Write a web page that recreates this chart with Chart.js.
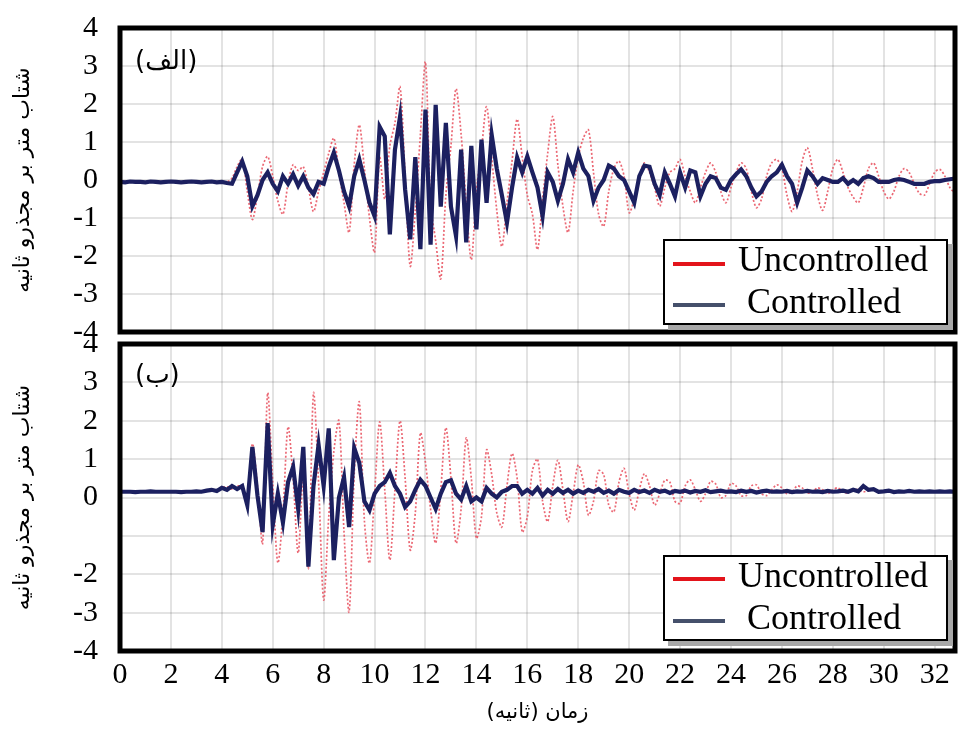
<!DOCTYPE html>
<html>
<head>
<meta charset="utf-8">
<script src="https://cdn.jsdelivr.net/npm/chart.js@4.4.1/dist/chart.umd.min.js"></script>
<style>
  body { margin: 0; background: #fff; }
  #page { position: relative; width: 962px; height: 729px; overflow: hidden; background: #fff; }
  .panel { position: absolute; left: 0; }
  #topWrap { top: 0; }
  #botWrap { top: 340px; }
  .legend {
    position: absolute; left: 663px; width: 281px; height: 82px;
    border: 2px solid #000; background: #fff; box-shadow: 5px 5px 0 #a8a8a8;
    font-family: 'Liberation Serif', 'Times New Roman', serif; font-size: 36px; color: #000;
  }
  .legend .swatch { position: absolute; left: 8px; width: 52px; height: 4px; }
  .legend .txt { position: absolute; line-height: 40px; white-space: nowrap; }
</style>
</head>
<body>
<div id="page">
  <div class="panel" id="topWrap"><canvas id="topChart" width="962" height="350"></canvas></div>
  <div class="panel" id="botWrap"><canvas id="botChart" width="962" height="389"></canvas></div>

  <div class="legend" style="top:239px;">
    <div class="swatch" style="top:21px;background:#e3141b;"></div>
    <div class="txt" style="left:73px;top:-2px;">Uncontrolled</div>
    <div class="swatch" style="top:62px;background:#45506b;"></div>
    <div class="txt" style="left:82px;top:40px;">Controlled</div>
  </div>
  <div class="legend" style="top:555px;">
    <div class="swatch" style="top:20px;background:#e3141b;"></div>
    <div class="txt" style="left:73px;top:-2px;">Uncontrolled</div>
    <div class="swatch" style="top:62px;background:#45506b;"></div>
    <div class="txt" style="left:82px;top:40px;">Controlled</div>
  </div>
</div>

<script>
// samples every 0.2 s, from 0 to 32.8 s
const dt = 0.2;

// (الف) acceleration, m/s²
const uncTop = [
  -0.05,-0.04,-0.06,-0.05,-0.04,-0.05,-0.06,-0.05,-0.04,-0.05,
  -0.05,-0.04,-0.05,-0.06,-0.05,-0.04,-0.05,-0.05,-0.04,-0.05,
  -0.05,-0.05,0.05,0.35,0.55,-0.3,-1.04,-0.4,0.35,0.62,
  0.1,-0.55,-0.9,-0.1,0.4,0.25,0.35,-0.2,-0.83,-0.3,
  0.2,0.7,1.1,0.2,-0.6,-1.38,0.4,1.45,0.3,-1.0,
  -1.9,0.6,-0.5,0.9,1.5,2.45,0.1,-2.27,-0.8,1.2,
  3.1,-0.6,-1.6,-2.6,-0.4,0.9,2.4,1.2,-0.6,-2.1,
  -0.3,0.8,1.93,0.6,-0.8,-1.75,-0.6,0.5,1.6,0.6,
  -0.4,-0.9,-1.83,-0.5,0.7,1.67,0.4,-0.7,-1.38,-0.3,
  0.6,1.1,1.32,0.2,-0.9,-1.22,-0.3,0.3,0.5,0.1,
  -0.86,-0.5,0.1,0.45,0.2,-0.2,-0.69,-0.2,0.2,0.3,
  0.54,0.1,-0.3,-0.6,-0.2,0.2,0.45,0.2,-0.3,-0.6,
  -0.2,0.2,0.45,0.3,-0.3,-0.73,-0.5,0.1,0.45,0.54,
  0.3,-0.4,-0.83,-0.3,0.5,0.85,0.3,-0.4,-0.8,-0.3,
  0.3,0.54,0.2,-0.2,-0.45,-0.6,-0.2,0.3,0.45,0.1,
  -0.3,-0.5,-0.3,0.1,0.3,0.2,-0.1,-0.35,-0.4,-0.1,
  0.2,0.28,0.1,-0.2,-0.35
];
const conTop = [
  -0.05,-0.06,-0.04,-0.05,-0.05,-0.06,-0.04,-0.05,-0.06,-0.05,
  -0.04,-0.05,-0.06,-0.05,-0.04,-0.05,-0.06,-0.05,-0.04,-0.06,
  -0.05,-0.08,-0.1,0.2,0.49,0.1,-0.69,-0.4,0.0,0.2,
  -0.1,-0.3,0.1,-0.1,0.15,-0.15,0.1,-0.2,-0.37,-0.05,
  -0.1,0.35,0.72,0.25,-0.3,-0.69,0.1,0.54,0.0,-0.6,
  -0.95,1.4,1.15,-1.43,0.8,1.67,-0.25,-1.56,0.6,-1.82,
  1.85,-1.7,1.98,-0.7,1.5,-0.7,-1.48,0.8,-1.64,0.9,
  -1.3,1.06,-0.6,1.19,0.3,-0.4,-1.12,-0.2,0.59,0.2,
  0.62,0.2,-0.2,-0.95,0.2,-0.05,-0.55,-0.1,0.55,0.2,
  0.72,0.3,0.1,-0.55,-0.2,0.0,0.38,0.3,0.1,0.0,
  -0.3,-0.6,0.1,0.38,0.35,-0.1,-0.4,0.2,-0.1,-0.43,
  0.2,-0.2,0.25,0.2,-0.43,-0.1,0.1,0.05,-0.2,-0.26,
  0.0,0.15,0.28,0.1,-0.2,-0.43,-0.3,-0.05,0.1,0.2,
  0.4,0.1,-0.1,-0.6,-0.2,0.25,0.1,-0.1,0.05,0.0,
  -0.05,-0.05,0.05,-0.1,0.0,-0.1,0.05,0.1,0.05,-0.05,
  -0.05,-0.05,0.0,0.02,0.0,-0.05,-0.1,-0.1,-0.1,-0.05,
  -0.03,-0.03,0.0,0.02,0.04
];

// (ب) acceleration, m/s²
const uncBot = [
  0.15,0.15,0.14,0.15,0.16,0.15,0.15,0.14,0.15,0.15,
  0.15,0.16,0.15,0.15,0.14,0.15,0.15,0.18,0.22,0.2,
  0.25,0.28,0.22,0.3,0.28,-0.1,1.4,0.3,-1.2,2.72,
  0.4,-1.7,-0.4,1.84,0.5,-1.45,0.6,-1.85,2.72,0.4,
  -2.67,-0.5,1.2,2.0,-0.9,-2.98,0.6,2.49,-0.6,-1.71,
  0.1,1.97,0.2,-1.63,0.2,2.0,0.5,-1.37,-0.4,1.68,
  0.9,-0.3,-1.19,0.2,1.82,0.5,-1.19,-0.3,1.55,0.5,
  -1.06,-0.5,1.24,0.6,-0.4,-0.77,0.3,1.15,0.5,-0.9,
  -0.5,0.7,1.0,-0.1,-0.63,0.3,0.97,0.2,-0.63,0.1,
  0.85,0.4,-0.46,-0.1,0.7,0.6,-0.2,-0.38,0.4,0.76,
  0.1,-0.33,0.2,0.62,0.3,-0.2,0.1,0.45,0.4,-0.1,
  -0.15,0.3,0.46,0.2,-0.1,0.1,0.42,0.35,0.0,0.05,
  0.37,0.3,0.05,0.05,0.3,0.33,0.1,0.05,0.2,0.33,
  0.25,0.1,0.15,0.3,0.25,0.12,0.15,0.25,0.2,0.1,
  0.2,0.25,0.15,0.12,0.22,0.2,0.15,0.18,0.2,0.15,
  0.15,0.18,0.14,0.17,0.16,0.15,0.17,0.15,0.16,0.15,
  0.16,0.15,0.15,0.16,0.15
];
const conBot = [
  0.15,0.15,0.15,0.14,0.15,0.15,0.16,0.15,0.15,0.15,
  0.15,0.15,0.14,0.15,0.15,0.16,0.15,0.18,0.2,0.17,
  0.25,0.2,0.3,0.22,0.3,-0.2,1.32,0.05,-0.9,1.94,
  -0.72,0.1,-0.65,0.4,0.8,-0.3,1.32,-1.8,0.3,1.37,
  0.3,1.8,-1.63,0.0,0.53,-0.77,1.29,0.9,-0.1,-0.33,
  0.1,0.3,0.4,0.64,0.3,0.1,-0.25,-0.1,0.2,0.46,
  0.3,0.0,-0.3,0.1,0.4,0.45,0.1,-0.05,0.3,-0.1,
  0.0,-0.1,0.25,0.1,0.0,0.15,0.2,0.3,0.3,0.1,
  0.2,0.1,0.25,0.05,0.2,0.1,0.22,0.12,0.2,0.1,
  0.18,0.12,0.2,0.15,0.22,0.12,0.18,0.1,0.2,0.15,
  0.12,0.2,0.14,0.18,0.12,0.2,0.15,0.18,0.12,0.17,
  0.15,0.18,0.13,0.17,0.15,0.19,0.14,0.16,0.18,0.15,
  0.16,0.14,0.18,0.15,0.17,0.13,0.16,0.18,0.15,0.16,
  0.15,0.17,0.14,0.16,0.15,0.17,0.15,0.16,0.14,0.17,
  0.15,0.16,0.18,0.15,0.2,0.16,0.3,0.2,0.22,0.15,
  0.16,0.18,0.14,0.16,0.15,0.17,0.15,0.16,0.15,0.16,
  0.15,0.16,0.15,0.16,0.15
];

const xTicks = [0, 2, 4, 6, 8, 10, 12, 14, 16, 18, 20, 22, 24, 26, 28, 30, 32];
const yTicks = [-4, -3, -2, -1, 0, 1, 2, 3, 4];
const yLabelsTop = ['-4', '-3', '-2', '-1', '0', '1', '2', '3', '4'];
const yLabelsBot = ['-4', '-3', '-2', '', '0', '1', '2', '3', '4'];

const yTitle = 'شتاب متر بر مجذرو ثانیه';
const xTitle = '\u200Fزمان (ثانیه)\u200F';

const time = uncTop.map((_, i) => Math.round(i * dt * 10) / 10);
const points = arr => arr.map((v, i) => ({ x: time[i], y: v }));

const serif = "'Liberation Serif', 'Times New Roman', serif";
const arabic = "'DejaVu Sans', sans-serif";

// thick black box round the plot area
const frame = {
  id: 'frame',
  afterDatasetsDraw(chart) {
    const { ctx, chartArea: a } = chart;
    ctx.save();
    ctx.strokeStyle = '#000';
    ctx.lineWidth = 5;
    ctx.strokeRect(a.left, a.top, a.right - a.left, a.bottom - a.top);
    ctx.restore();
  }
};

// panel tag in the top-left corner
const tag = {
  id: 'tag',
  afterDraw(chart, args, opts) {
    const { ctx, chartArea: a } = chart;
    ctx.save();
    ctx.font = '26px ' + arabic;
    ctx.fillStyle = '#000';
    ctx.textBaseline = 'middle';
    ctx.fillText(opts.text, a.left + 15, a.top + opts.dy);
    ctx.restore();
  }
};

const noEdgePadding = s => {
  s.paddingTop = 0; s.paddingBottom = 0; s.paddingLeft = 0; s.paddingRight = 0;
};

function panel(id, unc, con, tagText, tagDy, yLabels, bottom) {
  return new Chart(document.getElementById(id), {
    type: 'line',
    data: {
      datasets: [
        {
          label: 'Uncontrolled',
          data: points(unc),
          borderColor: 'rgba(232, 78, 92, 0.85)',
          borderWidth: 1.7,
          borderDash: [2, 2],
          tension: 0.3,
          order: 1
        },
        {
          label: 'Controlled',
          data: points(con),
          borderColor: '#1c2060',
          borderWidth: 4.2,
          tension: 0,
          order: 0
        }
      ]
    },
    options: {
      responsive: false,
      animation: false,
      elements: { point: { radius: 0 } },
      layout: {
        autoPadding: false,
        padding: bottom ? { top: 4, right: 7, bottom: 0, left: 0 }
                        : { top: 28, right: 7, bottom: 18, left: 0 }
      },
      plugins: {
        legend: { display: false },
        tooltip: { enabled: false },
        tag: { text: tagText, dy: tagDy }
      },
      scales: {
        x: {
          type: 'linear',
          min: 0,
          max: 32.8,
          afterBuildTicks: s => { s.ticks = xTicks.map(v => ({ value: v })); },
          afterFit: s => { s.height = bottom ? 78 : 0; noEdgePadding(s); },
          border: { display: false },
          grid: { color: 'rgba(0,0,0,0.11)', lineWidth: 2, drawTicks: false },
          ticks: {
            display: bottom,
            autoSkip: false,
            maxRotation: 0,
            padding: 6,
            color: '#000',
            font: { family: serif, size: 30 }
          },
          title: {
            display: bottom,
            text: xTitle,
            color: '#000',
            padding: { top: 0, bottom: 4 },
            font: { family: arabic, size: 21 }
          }
        },
        y: {
          min: -4,
          max: 4,
          afterBuildTicks: s => { s.ticks = yTicks.map(v => ({ value: v })); },
          afterFit: s => { s.width = 120; noEdgePadding(s); },
          border: { display: false },
          grid: { color: 'rgba(0,0,0,0.11)', lineWidth: 2, drawTicks: false },
          ticks: {
            autoSkip: false,
            padding: 22,
            color: '#000',
            font: { family: serif, size: 30 },
            callback: (v, i) => yLabels[i]
          },
          title: {
            display: true,
            text: yTitle,
            color: '#000',
            padding: { top: 10, bottom: 0 },
            font: { family: arabic, size: 22 }
          }
        }
      }
    },
    plugins: [frame, tag]
  });
}

panel('topChart', uncTop, conTop, '(الف)', 34, yLabelsTop, false);
panel('botChart', uncBot, conBot, '(ب)', 32, yLabelsBot, true);
</script>
</body>
</html>
